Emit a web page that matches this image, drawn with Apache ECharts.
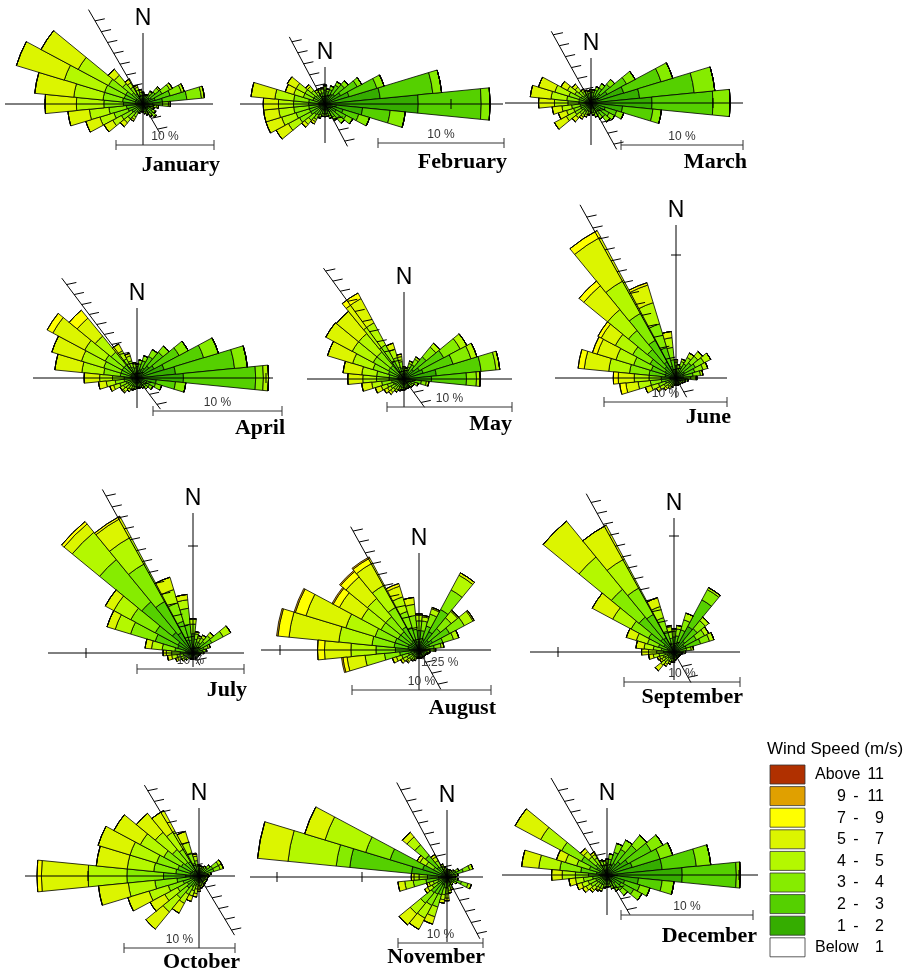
<!DOCTYPE html>
<html>
<head>
<meta charset="utf-8">
<title>Monthly wind roses</title>
<script src="https://cdn.jsdelivr.net/npm/echarts@6/dist/echarts.min.js"></script>
<style>
  html, body { margin: 0; padding: 0; background: #ffffff; }
  #chart { width: 920px; height: 970px; }
</style>
</head>
<body>
<div id="chart"></div>
<script>
// 32 direction sectors, clockwise from north (11.25° each)
const directions = ['N','NbE','NNE','NEbN','NE','NEbE','ENE','EbN','E','EbS','ESE','SEbE','SE','SEbS','SSE','SbE',
                    'S','SbW','SSW','SWbS','SW','SWbW','WSW','WbS','W','WbN','WNW','NWbW','NW','NWbN','NNW','NbW'];

const months = ['January','February','March','April','May','June',
                'July','August','September','October','November','December'];

// speed classes that carry frequencies (stacked from the centre outwards)
const speedClasses = ['1 - 2','2 - 3','3 - 4','4 - 5','5 - 7','7 - 9','9 - 11'];
const classColors  = ['#35ad00','#55d000','#86ec00','#b4f800','#dcf500','#ffff00','#e0a000'];

// legend entries, top to bottom
const legendLabels = [['Above','11'],['9','11'],['7','9'],['5','7'],['4','5'],['3','4'],['2','3'],['1','2'],['Below','1']];
const legendColors = ['#b03000','#e0a000','#ffff00','#dcf500','#b4f800','#86ec00','#55d000','#35ad00','#ffffff'];

// frequency (%) rows: [direction index, 1-2, 2-3, 3-4, 4-5, 5-7, 7-9, 9-11]
const janRose = [
  [0,.5,.4,.2,.1],[1,.5,.3,.2],[2,.5,.3,.2],[3,.6,.5,.3,.1],[4,.8,.8,.5,.2],[5,1.0,1.2,.9,.3],
  [6,1.3,1.6,1.2,.3],[7,2.0,2.5,1.5,.3],[8,1.0,1.0,.6,.2],[9,.6,.5,.3,.2],[10,.5,.4,.2,.1],
  [11,.6,.5,.3,.1],[12,.7,.6,.4,.1],[13,.6,.5,.3,.1],[14,.5,.4,.2,.1],[15,.5,.3,.2],[16,.4,.3,.1],
  [17,.4,.3,.1],[18,.5,.3,.2],[19,.5,.5,.5,.3,.2],[20,.5,.7,.8,.5,.5],[21,.5,.8,1.2,1.0,1.0],
  [22,.6,1.0,1.5,1.5,1.5],[23,.7,1.0,1.8,2.0,2.2],[24,.8,1.2,2.0,2.8,3.2],[25,.8,1.3,2.0,3.0,4.0],
  [26,.8,1.2,2.1,4.3,5.1],[27,.8,1.2,2.0,3.5,4.3],[28,.6,.9,1.2,1.1,.8],[29,.5,.7,.8,.5,.4],
  [30,.5,.5,.5,.3,.2],[31,.5,.4,.3,.2,.1]
];
const febRose = [
  [0,.6,.5,.3,.1],[1,.6,.4,.2],[2,.7,.5,.3],[3,.9,.8,.3],[4,1.0,1.0,.4],[5,1.4,1.5,.4],
  [6,2.0,2.3,.6],[7,4.4,4.2,.7],[8,7.4,5.0,.7],[9,3.0,2.2,1.2],[10,1.5,1.3,.9],[11,1.0,.9,.6],
  [12,.8,.7,.5],[13,.7,.5,.3],[14,.6,.4,.2],[15,.5,.3,.2],[16,.5,.3,.2],[17,.5,.3,.2],
  [18,.5,.4,.2,.1],[19,.5,.5,.4,.2,.2],[20,.5,.6,.6,.4,.3],[21,.5,.8,1.0,1.0,1.1],
  [22,.5,.8,1.1,1.2,1.3],[23,.5,.8,1.2,1.2,1.2],[24,.5,.8,1.2,1.2,1.2],[25,.5,.8,1.2,1.5,1.9],
  [26,.4,.6,.8,.8,.7],[27,.4,.6,.8,.8,.8],[28,.4,.5,.5,.4,.2],[29,.4,.4,.3,.2],[30,.5,.4,.3,.1],
  [31,.5,.4,.3,.1]
];
const marRose = [
  [0,.5,.4,.2],[1,.5,.4,.2],[2,.6,.5,.3],[3,.7,.7,.4],[4,1.0,1.0,.5],[5,1.5,1.8,.8],
  [6,2.8,3.2,1.0],[7,4.0,4.5,1.7],[8,5.0,5.0,1.4],[9,2.6,2.5,.7],[10,1.2,1.0,.6],[11,.9,.8,.5],
  [12,.8,.7,.5],[13,.6,.5,.4],[14,.5,.4,.3],[15,.4,.4,.2],[16,.4,.3,.1],[17,.4,.3,.2,.1],
  [18,.4,.3,.3,.2],[19,.4,.4,.3,.2,.2],[20,.4,.4,.4,.4,.4],[21,.4,.5,.6,.8,1.1],[22,.4,.5,.6,.6,.7],
  [23,.4,.5,.7,.8,.8],[24,.4,.6,.9,1.1,1.3],[25,.4,.6,1.0,1.3,1.7],[26,.4,.6,.9,1.2,1.4],
  [27,.4,.5,.6,.7,.6],[28,.4,.4,.5,.4,.3],[29,.4,.4,.3,.2],[30,.4,.4,.2,.1],[31,.4,.4,.2]
];
const aprRose = [
  [0,.5,.4,.2],[1,.6,.5,.3],[2,.7,.7,.4],[3,.9,1.0,.6],[4,1.2,1.4,.6],[5,1.5,2.2,.8],
  [6,2.2,3.2,1.2],[7,3.0,4.6,1.0],[8,3.6,5.6,.6,.4],[9,1.5,1.5,.8],[10,.8,.7,.5],[11,.6,.5,.3],
  [12,.5,.4,.2],[13,.4,.3,.2],[14,.4,.3,.1],[15,.4,.3,.1],[16,.4,.3,.1],[17,.4,.3,.2],
  [18,.4,.3,.2,.1],[19,.4,.3,.3,.2],[20,.4,.4,.3,.3,.1],[21,.4,.4,.4,.3],[22,.4,.5,.5,.5,.3],
  [23,.4,.6,.7,.7,.6],[24,.4,.6,.9,1.0,1.2],[25,.5,.8,1.3,1.7,2.1],[26,.5,.8,1.4,1.8,2.4],
  [27,.5,.8,1.5,1.8,2.8,.5],[28,.5,.8,1.3,1.6,1.8,.8],[29,.4,.6,.7,.7,.6],[30,.4,.5,.5,.4,.2],
  [31,.4,.4,.3,.1]
];
const mayRose = [
  [0,.4,.3,.2,.1],[1,.4,.3,.2],[2,.5,.5,.3,.2],[3,.6,.7,.5,.2],[4,1.0,1.3,1.0,.4],[5,1.4,2.2,1.5,.6],
  [6,1.6,2.5,1.5,.5],[7,2.6,3.6,1.2,.3],[8,2.2,2.8,.8,.3],[9,.7,.7,.4,.2],[10,.5,.4,.3],[11,.4,.3,.2],
  [12,.4,.3,.2],[13,.4,.3,.1],[14,.4,.3,.1],[15,.4,.3,.1],[16,.4,.3,.2],[17,.4,.3,.2],
  [18,.4,.3,.2,.1],[19,.4,.3,.3,.2],[20,.4,.4,.3,.3,.2],[21,.4,.4,.4,.3,.3],[22,.4,.5,.5,.5,.5],
  [23,.4,.6,.8,.8,.8],[24,.5,.7,1.0,1.1,1.2],[25,.5,.7,1.0,1.2,1.5],[26,.5,.8,1.3,1.7,2.1],
  [27,.5,.9,1.4,1.9,2.4],[28,.5,.9,1.4,1.9,2.3],[29,.6,1.0,1.5,2.0,2.2,.5],[30,.4,.6,.8,.7,.5],
  [31,.4,.5,.5,.4,.2]
];
const junRose = [
  [0,.5,.5,.3,.2],[1,.4,.4,.3],[2,.5,.5,.4,.2],[3,.6,.7,.6,.4],[4,.7,.9,.7,.5],[5,.8,1.0,.8,.6],
  [6,.7,.9,.7,.4],[7,.6,.8,.6,.2],[8,.6,.6,.4,.1],[9,.4,.4,.2],[10,.3,.3,.2],[11,.3,.3,.1],
  [12,.3,.2,.1],[13,.3,.2,.1],[14,.3,.2,.1],[15,.3,.2,.1],[16,.3,.2,.1],[17,.3,.2,.1],
  [18,.3,.2,.2,.1],[19,.3,.3,.2,.2],[20,.3,.3,.3,.2,.2],[21,.3,.4,.4,.4,.3],[22,.4,.5,.6,.6,.5],
  [23,.5,.7,.9,1.0,1.0,.5],[24,.5,.7,1.0,1.2,1.3,.4],[25,.9,1.3,1.6,1.7,2.0,.5],
  [26,.9,1.2,1.5,1.5,1.6,.4],[27,1.0,1.4,1.6,1.6,1.3,.3],[28,1.2,1.8,2.0,2.2,2.5,.5],
  [29,1.5,2.0,2.5,3.0,4.0,.6],[30,1.0,1.6,2.0,1.8,1.5,.2],[31,.6,.9,1.0,.8,.5]
];
const julRose = [
  [0,.8,1.0,.9,.5],[1,.6,.7,.5,.2],[2,.5,.6,.4,.2],[3,.5,.6,.5,.3],[4,.6,.8,.7,.4],[5,.8,1.2,1.2,.8],
  [6,.5,.6,.4,.2],[7,.4,.5,.3,.1],[8,.4,.4,.2],[9,.3,.3,.1],[10,.3,.2,.1],[11,.3,.2,.1],
  [12,.3,.2,.1],[13,.3,.2,.1],[14,.3,.2,.1],[15,.3,.2,.1],[16,.3,.2,.1],[17,.3,.2,.1],
  [18,.3,.2,.1],[19,.3,.2,.1],[20,.3,.3,.2,.1],[21,.3,.4,.3,.2],[22,.4,.4,.4,.3,.2],
  [23,.4,.5,.6,.5,.4],[24,.5,.7,.8,.5,.3],[25,.7,1.0,1.2,1.0,.6],[26,1.5,2.2,2.4,1.5,.8],
  [27,1.6,2.4,2.6,1.8,.9],[28,2.5,3.7,5.1,3.3,1.0,.3],[29,2.2,3.3,4.0,2.8,2.0,.2],
  [30,1.3,1.8,1.8,1.3,1.2],[31,1.2,1.5,1.5,.8,.5]
];
const augRose = [
  [0,.6,.8,.7,.4,.1],[1,.6,.8,.7,.3,.1],[2,.8,1.0,.9,.4,.1],[3,1.5,1.8,1.6,1.2,.2],[4,.9,1.1,1.0,.6,.1],
  [5,1.1,1.4,1.2,.7,.1],[6,.8,1.0,.8,.4],[7,.5,.6,.5,.2],[8,.4,.4,.3,.1],[9,.3,.3,.2],[10,.3,.3,.1],
  [11,.3,.2,.1],[12,.3,.2,.1],[13,.3,.2,.1],[14,.3,.2,.1],[15,.3,.2,.1],[16,.3,.2,.1],[17,.3,.2,.1],
  [18,.3,.2,.2,.1],[19,.3,.3,.2,.1],[20,.3,.3,.3,.2,.1],[21,.3,.3,.4,.3,.2],[22,.4,.4,.5,.4,.3],
  [23,.6,.8,1.1,1.4,1.3,.3,.1],[24,.7,1.0,1.4,1.8,1.9,.5],[25,.8,1.0,1.6,2.4,3.6,.8,.1],
  [26,.8,1.0,1.5,2.2,3.0,.8,.1],[27,.7,1.0,1.4,1.6,1.8,.5,.1],[28,.7,1.0,1.4,1.7,2.0,.5,.1],
  [29,.8,1.1,1.6,1.8,1.8,.4,.1],[30,.7,1.0,1.2,1.1,.8,.2],[31,.6,.9,1.0,.8,.5]
];
const sepRose = [
  [0,.6,.7,.5,.2],[1,.6,.8,.6,.3],[2,.9,1.1,.9,.6],[3,2.5,2.6,1.0,.2],[4,1.2,1.4,.9,.4],
  [5,1.0,1.2,.8,.4],[6,1.1,1.3,.8,.4],[7,.5,.6,.4,.2],[8,.4,.4,.2],[9,.3,.3,.1],[10,.3,.2,.1],
  [11,.3,.2,.1],[12,.3,.2,.1],[13,.3,.2,.1],[14,.3,.2,.1],[15,.3,.2,.2],[16,.3,.3,.2,.1],
  [17,.3,.3,.2,.1],[18,.3,.3,.3,.2],[19,.3,.3,.3,.3,.2],[20,.3,.4,.4,.4,.6],[21,.3,.3,.3,.3,.2],
  [22,.3,.3,.4,.3,.2],[23,.4,.4,.5,.5,.4],[24,.4,.5,.6,.7,.6],[25,.5,.6,.7,.8,.7],
  [26,.6,.8,1.0,1.0,.9],[27,1.0,1.5,1.7,1.8,2.0],[28,1.5,2.4,3.1,3.6,4.0],[29,1.4,2.3,2.6,2.8,3.3],
  [30,.8,1.1,1.2,1.0,.8],[31,.5,.7,.6,.4,.1]
];
const octRose = [
  [0,.4,.3,.2,.1],[1,.4,.3,.2],[2,.4,.3,.2],[3,.4,.4,.2],[4,.5,.5,.3],[5,.6,.8,.6,.3],
  [6,.6,.8,.6,.3],[7,.4,.4,.3],[8,.4,.3,.2],[9,.3,.3,.2],[10,.3,.3,.2],[11,.3,.3,.2],
  [12,.3,.3,.2],[13,.3,.3,.2,.1],[14,.3,.3,.2,.2],[15,.3,.3,.3,.2],[16,.3,.3,.3,.3,.2],
  [17,.4,.4,.4,.4,.3],[18,.4,.5,.5,.5,.5],[19,.5,.6,.8,.9,1.0],[20,.6,.8,1.2,1.6,2.0],
  [21,.5,.7,1.0,1.3,1.5],[22,.6,.9,1.4,1.8,2.0],[23,.8,1.2,2.0,2.4,2.7],[24,1.2,2.0,3.3,3.5,4.2,.4],
  [25,.8,1.3,2.0,2.4,2.8],[26,.8,1.2,2.0,2.5,3.0],[27,.7,1.1,1.8,2.4,2.7],[28,.6,1.0,1.5,2.0,2.2],
  [29,.6,.9,1.3,1.8,2.1],[30,.5,.7,1.0,1.0,1.0],[31,.4,.5,.5,.4,.2]
];
const novRose = [
  [0,.4,.3,.2],[1,.4,.3,.2],[2,.4,.3,.2],[3,.4,.3,.2],[4,.5,.4,.2],[5,.6,.6,.4],
  [6,.9,1.1,.8,.4],[7,.5,.5,.3],[8,.4,.4,.2],[9,.5,.5,.3],[10,.8,1.0,.8,.4],[11,.5,.5,.3],
  [12,.4,.4,.2],[13,.4,.4,.3],[14,.5,.5,.4,.2],[15,.5,.6,.5,.3],[16,.6,.7,.7,.5,.3],
  [17,.6,.7,.8,.6,.4],[18,1.0,1.2,1.5,1.2,.9],[19,1.0,1.3,1.5,1.7,1.5],[20,1.0,1.4,1.6,1.6,1.7],
  [21,.6,.7,.7,.6,.4],[22,.5,.6,.6,.5,.3],[23,1.0,1.5,1.5,1.0,.8],[24,1.0,1.3,1.0,.6,.3],
  [25,4.2,7.3,1.6,5.7,3.6],[26,3.0,4.0,3.0,5.0,2.5],[27,.8,1.0,1.0,.8,.4],[28,1.5,1.8,1.6,1.2,.7],
  [29,.6,.8,.8,.5,.3],[30,.5,.5,.4,.2],[31,.4,.4,.3,.1]
];
const decRose = [
  [0,.5,.4,.3],[1,.6,.6,.4],[2,.8,1.0,.7],[3,1.0,1.2,.8],[4,1.3,1.6,1.0],[5,1.8,2.0,1.0],
  [6,2.0,2.2,1.0],[7,4.2,2.6,1.1],[8,5.7,4.1,.3],[9,2.4,1.8,.9],[10,1.4,1.2,.8],[11,1.2,1.1,.7],
  [12,.8,.7,.5],[13,.6,.5,.3],[14,.5,.4,.2],[15,.4,.3,.2],[16,.4,.3,.2],[17,.4,.3,.2,.1],
  [18,.4,.4,.3,.2],[19,.4,.4,.3,.2,.1],[20,.4,.4,.4,.3,.2],[21,.4,.5,.5,.4,.3],[22,.4,.5,.6,.5,.4],
  [23,.5,.6,.7,.6,.5],[24,.6,.8,1.0,1.0,.8],[25,.8,1.2,1.6,1.6,1.3],[26,.6,.8,1.0,.9,.7],
  [27,.9,1.3,1.7,1.8,2.2],[28,.5,.6,.7,.5,.3],[29,.4,.5,.6,.3,.2],[30,.4,.4,.3,.1],[31,.4,.4,.3]
];
const monthRoses = [janRose, febRose, marRose, aprRose, mayRose, junRose,
                    julRose, augRose, sepRose, octRose, novRose, decRose];

// panel layout: centre, pixels per 1 %, cross-axis arm lengths (left, right, up, down),
// scale-bar right end / offset below centre, coastline bearing + arm lengths, caption anchor
const RMAX = 25;
const panels = [
  {cx:143, cy:104, k:9.8,  arm:[138,70,71,41],  bar:[71,41],  coast:[-30,109,35], cap:[220,165]},
  {cx:325, cy:104, k:12.6, arm:[85,178,37,39],  bar:[179,39], coast:[-28,76,48],  cap:[507,162]},
  {cx:591, cy:103, k:12.2, arm:[86,152,45,42],  bar:[152,42], coast:[-29,82,53],  cap:[747,162]},
  {cx:137, cy:378, k:12.9, arm:[104,136,70,30], bar:[145,33], coast:[-37,125,39], cap:[285,428]},
  {cx:404, cy:379, k:12.5, arm:[97,108,87,28],  bar:[108,28], coast:[-36,137,35], cap:[512,424]},
  {cx:676, cy:378, k:12.3, arm:[121,51,153,20], bar:[51,24],  coast:[-29,198,22], cap:[731,417]},
  {cx:193, cy:653, k:10.7, arm:[145,51,140,14], bar:[51,16],  coast:[-29,187,14], cap:[247,690]},
  {cx:419, cy:650, k:13.9, arm:[158,72,97,40],  bar:[72,40],  coast:[-29,141,45], cap:[496,708]},
  {cx:674, cy:652, k:11.6, arm:[144,66,134,28], bar:[66,30],  coast:[-29,181,35], cap:[743,697]},
  {cx:199, cy:876, k:11.1, arm:[174,36,68,72],  bar:[36,72],  coast:[-31,106,69], cap:[240,962]},
  {cx:447, cy:877, k:8.5,  arm:[197,36,67,65],  bar:[36,66],  coast:[-28,107,70], cap:[485,957]},
  {cx:607, cy:875, k:13.2, arm:[105,151,67,40], bar:[146,40], coast:[-30,112,46], cap:[757,936]}
];

function toStack(rows) {
  const stack = speedClasses.map(() => new Array(directions.length).fill(0));
  rows.forEach(r => { for (let c = 1; c < r.length; c++) stack[c - 1][r[0]] = r[c]; });
  return stack;
}

const polar = [], angleAxis = [], radiusAxis = [], series = [], graphic = [];
const LINE = {stroke:'#000', lineWidth:1};
const GREY = {stroke:'#333', lineWidth:1};

panels.forEach((p, i) => {
  const radiusPx = p.k * RMAX;
  polar.push({center:[p.cx, p.cy], radius: radiusPx});
  angleAxis.push({
    polarIndex:i, type:'category', data:directions, startAngle: 90 + 180 / directions.length,
    clockwise:true, boundaryGap:true,
    axisLine:{show:false}, axisTick:{show:false}, axisLabel:{show:false}, splitLine:{show:false}
  });
  radiusAxis.push({
    polarIndex:i, type:'value', min:0, max:RMAX,
    axisLine:{show:false}, axisTick:{show:false}, axisLabel:{show:false}, splitLine:{show:false}
  });
  toStack(monthRoses[i]).forEach((vals, ci) => {
    series.push({
      type:'bar', coordinateSystem:'polar', polarIndex:i, stack:'rose' + i,
      name: speedClasses[ci], data: vals, barCategoryGap:'0%', barGap:'0%',
      itemStyle:{color: classColors[ci], borderColor:'#000', borderWidth:0.8},
      silent:true, animation:false
    });
  });

  const pxPerPct = radiusPx / RMAX;
  const [aL, aR, aU, aD] = p.arm;
  // cross axes
  graphic.push({type:'line', z:50, shape:{x1:p.cx - aL, y1:p.cy, x2:p.cx + aR, y2:p.cy}, style:LINE});
  graphic.push({type:'line', z:50, shape:{x1:p.cx, y1:p.cy - aU, x2:p.cx, y2:p.cy + aD}, style:LINE});
  // ticks every 10 % along the arms
  const step = 10 * pxPerPct;
  for (let d = step; d < aL - 2; d += step) graphic.push({type:'line', z:50, shape:{x1:p.cx - d, y1:p.cy - 5, x2:p.cx - d, y2:p.cy + 5}, style:LINE});
  for (let d = step; d < aR - 2; d += step) graphic.push({type:'line', z:50, shape:{x1:p.cx + d, y1:p.cy - 5, x2:p.cx + d, y2:p.cy + 5}, style:LINE});
  for (let d = step; d < aU - 2; d += step) graphic.push({type:'line', z:50, shape:{x1:p.cx - 5, y1:p.cy - d, x2:p.cx + 5, y2:p.cy - d}, style:LINE});
  // north marker
  graphic.push({type:'text', z:50, x:p.cx, y:p.cy - aU - 14,
    style:{text:'N', font:'23px "Liberation Sans", Arial, sans-serif', fill:'#000', align:'center', verticalAlign:'middle'}});
  // coastline with hatching
  const [bear, up, dn] = p.coast;
  const rad = bear * Math.PI / 180;
  const ux = Math.sin(rad), uy = -Math.cos(rad);
  graphic.push({type:'line', z:50, shape:{x1:p.cx + ux * up, y1:p.cy + uy * up, x2:p.cx - ux * dn, y2:p.cy - uy * dn}, style:LINE});
  const hRad = 78 * Math.PI / 180;
  for (let s = -dn + 6; s < up - 2; s += 12.5) {
    const hx = p.cx + ux * s, hy = p.cy + uy * s;
    graphic.push({type:'line', z:50, shape:{x1:hx, y1:hy, x2:hx + Math.sin(hRad) * 10, y2:hy - Math.cos(hRad) * 10}, style:LINE});
  }
  // 10 % scale bar
  const [bR, bY] = p.bar;
  const xr = p.cx + bR, xl = xr - step, yb = p.cy + bY;
  graphic.push({type:'line', z:50, shape:{x1:xl, y1:yb, x2:xr, y2:yb}, style:GREY});
  graphic.push({type:'line', z:50, shape:{x1:xl, y1:yb - 5, x2:xl, y2:yb + 5}, style:GREY});
  graphic.push({type:'line', z:50, shape:{x1:xr, y1:yb - 5, x2:xr, y2:yb + 5}, style:GREY});
  graphic.push({type:'text', z:50, x:(xl + xr) / 2, y:yb - 8,
    style:{text:'10 %', font:'12px "Liberation Sans", Arial, sans-serif', fill:'#333', align:'center', verticalAlign:'middle'}});
  // month caption
  graphic.push({type:'text', z:50, x:p.cap[0], y:p.cap[1],
    style:{text:months[i], font:'bold 22px "Liberation Serif", "Times New Roman", serif', fill:'#000', align:'right', verticalAlign:'middle'}});
});

// inner ring label of the August rose
graphic.push({type:'text', z:50, x:panels[7].cx + 2, y:panels[7].cy + 13,
  style:{text:'1.25 %', font:'12px "Liberation Sans", Arial, sans-serif', fill:'#444', align:'left', verticalAlign:'middle'}});

// legend
graphic.push({type:'text', z:50, x:767, y:749,
  style:{text:'Wind Speed (m/s)', font:'17px "Liberation Sans", Arial, sans-serif', fill:'#000', align:'left', verticalAlign:'middle'}});
legendLabels.forEach((lab, j) => {
  const y = 765 + j * 21.6;
  graphic.push({type:'rect', z:50, shape:{x:770, y:y, width:35, height:19},
    style:{fill:legendColors[j], stroke:'#333', lineWidth:0.8}});
  const f = '16px "Liberation Sans", Arial, sans-serif';
  const cy = y + 10;
  if (lab[0] === 'Above' || lab[0] === 'Below') {
    graphic.push({type:'text', z:50, x:815, y:cy, style:{text:lab[0], font:f, fill:'#000', align:'left', verticalAlign:'middle'}});
  } else {
    graphic.push({type:'text', z:50, x:846, y:cy, style:{text:lab[0], font:f, fill:'#000', align:'right', verticalAlign:'middle'}});
    graphic.push({type:'text', z:50, x:856, y:cy, style:{text:'-', font:f, fill:'#000', align:'center', verticalAlign:'middle'}});
  }
  graphic.push({type:'text', z:50, x:884, y:cy, style:{text:lab[1], font:f, fill:'#000', align:'right', verticalAlign:'middle'}});
});

const chart = echarts.init(document.getElementById('chart'), null, {renderer:'canvas'});
chart.setOption({
  backgroundColor:'#ffffff',
  animation:false,
  polar, angleAxis, radiusAxis, series, graphic
});
</script>
</body>
</html>
